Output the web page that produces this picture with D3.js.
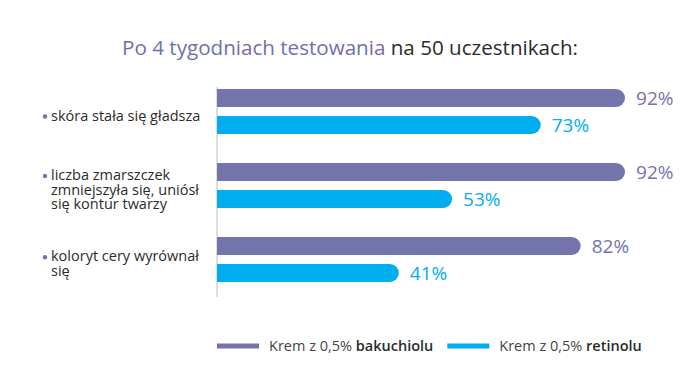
<!DOCTYPE html>
<html>
<head>
<meta charset="utf-8">
<script src="https://cdn.jsdelivr.net/npm/d3@7"></script>
<style>
  body { margin: 0; background: #fff; }
  svg { font-family: "Open Sans", sans-serif; }
</style>
</head>
<body>
<svg id="chart" width="700" height="383"></svg>
<script>
// data
const categories = [
  ["skóra stała się gładsza"],
  ["liczba zmarszczek", "zmniejszyła się, uniósł", "się kontur twarzy"],
  ["koloryt cery wyrównał", "się"]
];
const seriesNames = ["bakuchiolu", "retinolu"];
const bakuchiol = [92, 92, 82];
const retinol = [73, 53, 41];
const colors = ["#7474ad", "#00aeef"];

const svg = d3.select("#chart");

// title
const title = svg.append("text")
    .attr("x", 350)
    .attr("y", 55)
    .attr("text-anchor", "middle")
    .style("font-size", "20.6px");
title.append("tspan").attr("fill", "#6e6fb0").text("Po 4 tygodniach testowania");
title.append("tspan").attr("fill", "#2b2b2b").text(" na 50 uczestnikach:");

const x = d3.scaleLinear().domain([0, 100]).range([217, 660.5]);

const y0 = d3.scaleBand()
    .domain(d3.range(categories.length))
    .range([89, 282])
    .paddingInner(29 / 74)
    .paddingOuter(0);

const y1 = d3.scaleBand()
    .domain(seriesNames)
    .range([0, y0.bandwidth()])
    .paddingInner(1 / 3);

const values = [bakuchiol, retinol];

// axis line
svg.append("line")
    .attr("x1", x(0)).attr("x2", x(0))
    .attr("y1", y0.range()[0] - 2)
    .attr("y2", y0.range()[1] + 15)
    .attr("stroke", "#c8c8cc")
    .attr("stroke-width", 1.2);

// rounded-end bar path
function barPath(x0, x1, yTop, h) {
  const r = h / 2;
  return "M" + x0 + "," + yTop +
    "H" + (x1 - r) +
    "A" + r + "," + r + " 0 0 1 " + (x1 - r) + "," + (yTop + h) +
    "H" + x0 + "Z";
}

const groups = svg.selectAll(".grp")
  .data(categories)
  .enter().append("g")
    .attr("class", "grp")
    .attr("transform", (d, i) => "translate(0," + y0(i) + ")");

seriesNames.forEach(function(s, si) {
  groups.append("path")
      .attr("d", (d, i) => barPath(x(0), x(values[si][i]), y1(s), y1.bandwidth()))
      .attr("fill", colors[si]);
  groups.append("text")
      .attr("x", (d, i) => x(values[si][i]) + 11)
      .attr("y", y1(s) + y1.bandwidth() / 2)
      .attr("dy", "0.36em")
      .attr("fill", colors[si])
      .style("font-size", "19px")
      .text((d, i) => values[si][i] + "%");
});

// category labels
groups.each(function(lines) {
  const g = d3.select(this);
  const c = y0.bandwidth() / 2;
  const lh = 14.5;
  const firstBase = c + 9 - (lines.length - 1) / 2 * lh;
  g.append("circle")
      .attr("cx", 45)
      .attr("cy", firstBase - 4)
      .attr("r", 2.2)
      .attr("fill", "#7474ad");
  const t = g.append("text")
      .attr("fill", "#2b2b2b")
      .style("font-size", "14.5px");
  lines.forEach(function(l, li) {
    t.append("tspan")
        .attr("x", 51)
        .attr("y", firstBase + li * lh)
        .text(l);
  });
});

// legend
let lx = 217;
seriesNames.forEach(function(s, si) {
  svg.append("line")
      .attr("x1", lx).attr("x2", lx + 42)
      .attr("y1", 346).attr("y2", 346)
      .attr("stroke", colors[si])
      .attr("stroke-width", 5);
  const t = svg.append("text")
      .attr("x", lx + 52)
      .attr("y", 351)
      .style("font-size", "14.5px");
  t.append("tspan").attr("fill", "#444").text("Krem z 0,5% ");
  t.append("tspan").attr("fill", "#2b2b2b").style("font-weight", 600).text(s);
  lx = lx + 52 + t.node().getComputedTextLength() + 14;
});
</script>
</body>
</html>
